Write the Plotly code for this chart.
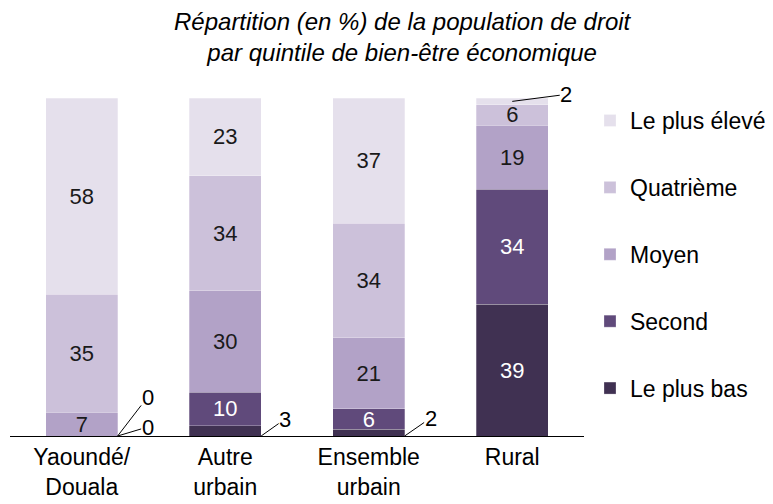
import plotly.graph_objects as go

categories = ["Yaoundé/<br>Douala", "Autre<br>urbain", "Ensemble<br>urbain", "Rural"]
series_names = ["Le plus bas", "Second", "Moyen", "Quatrième", "Le plus élevé"]
le_plus_bas = [0, 3, 2, 39]
second = [0, 10, 6, 34]
moyen = [7, 30, 21, 19]
quatrieme = [35, 34, 34, 6]
le_plus_eleve = [58, 23, 37, 2]
series_values = [le_plus_bas, second, moyen, quatrieme, le_plus_eleve]
colors = ["#403152", "#604A7B", "#B2A2C7", "#CCC1DA", "#E5E0EC"]
text_colors = ["#FFFFFF", "#FFFFFF", "#1A1A1A", "#1A1A1A", "#1A1A1A"]
title_text = "Répartition (en %) de la population de droit<br>par quintile de bien-être économique"

# segments labelled outside with leader lines: (series index, category index, offset x, offset y, anchor)
outside_labels = [
    (0, 0, 30, -9, "base"),
    (1, 0, 30, -39, "base"),
    (0, 1, 24, -17, "base"),
    (0, 2, 26, -18, "base"),
    (4, 3, 54, -7, "mid"),
]
outside_set = {(s, c) for s, c, *_ in outside_labels}

FONT = "Arial, Liberation Sans, sans-serif"
W, H = 773, 504
fig = go.Figure()
for si, (name, vals) in enumerate(zip(series_names, series_values)):
    texts = ["" if (si, ci) in outside_set else str(v) for ci, v in enumerate(vals)]
    fig.add_trace(go.Bar(
        x=categories, y=vals, name=name, text=texts,
        textposition="inside", insidetextanchor="middle", textangle=0,
        textfont=dict(color=text_colors[si], size=22, family=FONT),
        marker=dict(color=colors[si], line=dict(color="rgba(255,255,255,0.45)", width=0.6)),
        legendgroup=name, legendrank=len(series_names) - si,
        cliponaxis=False, hoverinfo="skip",
    ))

for si, ci, ox, oy, anchor in outside_labels:
    below = sum(series_values[k][ci] for k in range(si))
    val = series_values[si][ci]
    if anchor == "base":
        xa, ya = ci + 0.25, 0
    else:
        xa, ya = ci, below + val / 2
    fig.add_annotation(
        x=xa, y=ya, xref="x", yref="y", text=str(val),
        showarrow=True, arrowhead=0, arrowwidth=1, arrowcolor="#000000",
        ax=ox, ay=oy, standoff=0, borderpad=0,
        font=dict(size=22, color="#000000", family=FONT),
    )

fig.add_annotation(
    x=0.6847, y=1.1805, xref="paper", yref="paper", text="<i>" + title_text + "</i>",
    showarrow=False, xanchor="center", yanchor="middle", align="center",
    font=dict(size=24, family=FONT, color="#000000"),
)

fig.update_layout(
    width=W, height=H,
    margin=dict(l=2, r=197, t=90, b=76),
    paper_bgcolor="white", plot_bgcolor="white",
    barmode="stack", bargap=0.5,
    uniformtext=dict(minsize=22, mode="show"),
    font=dict(family=FONT, size=23, color="#000000"),
    legend=dict(
        x=0.7529, xref="container", xanchor="left",
        y=0.8194, yref="container", yanchor="top",
        traceorder="grouped", tracegroupgap=34, maxheight=450,
        font=dict(size=23, family=FONT, color="#000000"),
        bgcolor="rgba(0,0,0,0)",
    ),
    showlegend=True,
)
fig.update_xaxes(showline=True, linecolor="#000000", linewidth=1, ticks="",
                 tickfont=dict(size=23, family=FONT, color="#000000"),
                 automargin=False, showgrid=False, zeroline=False)
fig.update_yaxes(visible=False, range=[0, 100], showgrid=False, zeroline=False,
                 automargin=False)

fig.write_html("out.html")
